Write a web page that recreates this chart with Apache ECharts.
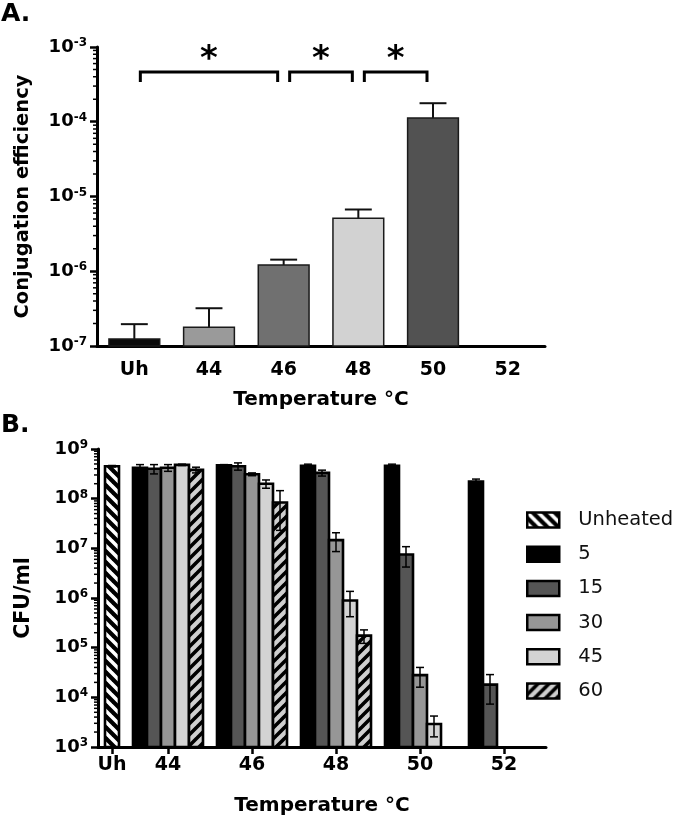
<!DOCTYPE html>
<html><head><meta charset="utf-8">
<script src="https://cdn.jsdelivr.net/npm/echarts@6/dist/echarts.min.js"></script>
<style>html,body{margin:0;padding:0;background:#fff}#c{width:680px;height:823px}</style>
</head><body><div id="c"></div>
<script>
// ---------- Panel A data ----------
const catsA = ['Uh', '44', '46', '48', '50', '52'];
const meanA = [1.24e-7, 1.78e-7, 1.21e-6, 5.1e-6, 1.12e-4, null];
const errA  = [7.2e-8, 1.42e-7, 2.2e-7, 1.6e-6, 6.5e-5, null];
const sigPairsA = [[0, 2], [2, 3], [3, 4]];
const sigLabelsA = ['*', '*', '*'];

// ---------- Panel B data ----------
const groupLabelsB = ['Uh', '44', '46', '48', '50', '52'];
const tempsB = ['44', '46', '48', '50', '52'];
const seriesNamesB = ['Unheated', '5', '15', '30', '45', '60'];
const meanUnheated = [4.5e8];
const errUnheated  = [1.5e7];
const mean5  = [4.2e8, 4.7e8, 4.6e8, 4.6e8, 2.2e8];
const err5   = [6.5e7, 1.5e7, 3.5e7, 3.5e7, 2.8e7];
const mean15 = [4.0e8, 4.5e8, 3.3e8, 7.5e6, 1.8e4];
const err15  = [8.5e7, 7.5e7, 4.5e7, 3.3e6, 1.07e4];
const mean30 = [4.2e8, 3.1e8, 1.46e7, 2.8e4, null];
const err30  = [6.5e7, 2.0e7, 6.0e6, 1.2e4, null];
const mean45 = [4.8e8, 2.0e8, 8.9e5, 2.9e3, null];
const err45  = [1.5e7, 3.8e7, 4.7e5, 1.3e3, null];
const mean60 = [3.8e8, 8.4e7, 1.75e5, null, null];
const err60  = [5.0e7, 6.1e7, 5.3e4, null, null];

// ---------- styles ----------
const FONT = '"DejaVu Sans", sans-serif';
const colorsA = ['#0a0a0a', '#9a9a9a', '#707070', '#d2d2d2', '#525252', '#000000'];
function stripes(bg, fg, dir) {
  const s = 11;
  const c = document.createElement('canvas');
  c.width = s; c.height = s;
  const ctx = c.getContext('2d');
  ctx.fillStyle = bg; ctx.fillRect(0, 0, s, s);
  ctx.strokeStyle = fg; ctx.lineWidth = 3.6; ctx.beginPath();
  for (let k = -1; k <= 1; k++) {
    if (dir === '\\') { ctx.moveTo(k * s - 1, -1); ctx.lineTo(k * s + s + 1, s + 1); }
    else { ctx.moveTo(k * s - 1, s + 1); ctx.lineTo(k * s + s + 1, -1); }
  }
  ctx.stroke();
  return c;
}
const fillsB = [
  { image: stripes('#000000', '#ffffff', '\\'), repeat: 'repeat' },
  '#000000', '#555555', '#969696', '#d3d3d3',
  { image: stripes('#cfcfcf', '#000000', '/'), repeat: 'repeat' }
];

// ---------- layout of panel B slots ----------
const NSLOT = 33;
const UH_SLOT = 1, FIRST_GROUP = 5, GROUP_STEP = 6;
const slotLabels = new Array(NSLOT).fill('');
slotLabels[UH_SLOT] = groupLabelsB[0];
tempsB.forEach((t, g) => { slotLabels[FIRST_GROUP + GROUP_STEP * g] = t; });
const slotCats = slotLabels.map((l, i) => 's' + i);

const Y_MIN_A = 1e-7, Y_MAX_A = 1e-3, Y_MIN_B = 1e3, Y_MAX_B = 1e9;
const BRACKET_Y = 4.64e-4;

const axisLabelBold = { fontFamily: FONT, fontWeight: 'bold', color: '#000' };

function logFormatter(v) {
  const e = Math.round(Math.log10(v));
  return '{b|10}{s|' + e + '}';
}
const logRich = {
  b: { fontFamily: FONT, fontWeight: 'bold', fontSize: 18, color: '#000', lineHeight: 20 },
  s: { fontFamily: FONT, fontWeight: 'bold', fontSize: 12, color: '#000', verticalAlign: 'top', lineHeight: 12 }
};

function renderA(params, api) {
  const i = api.value(0), m = api.value(1), e = api.value(2);
  const top = api.coord([i, m]);
  const baseY = params.coordSys.y + params.coordSys.height;
  const bw = api.coord([i + 1, m])[0] - top[0];
  const w = bw * 0.68;
  const eTop = api.coord([i, m + e]);
  const capW = w * 0.53;
  return { type: 'group', children: [
    { type: 'line', shape: { x1: top[0], y1: top[1], x2: top[0], y2: eTop[1] }, style: { stroke: '#111', lineWidth: 2 } },
    { type: 'line', shape: { x1: top[0] - capW / 2, y1: eTop[1], x2: top[0] + capW / 2, y2: eTop[1] }, style: { stroke: '#111', lineWidth: 2 } },
    { type: 'rect', shape: { x: top[0] - w / 2, y: top[1], width: w, height: baseY - top[1] }, style: { fill: colorsA[i], stroke: '#1a1a1a', lineWidth: 1.5 } }
  ]};
}

function makeRenderB(fill) {
  return function (params, api) {
    const s = api.value(0), m = api.value(1), e = api.value(2);
    const top = api.coord([s, m]);
    const baseY = params.coordSys.y + params.coordSys.height;
    const w = api.coord([s + 1, m])[0] - top[0];
    const hi = api.coord([s, m + e]);
    const lo = api.coord([s, Math.max(m - e, Y_MIN_B)]);
    const cap = 4;
    return { type: 'group', children: [
      { type: 'rect', shape: { x: top[0] - w / 2, y: top[1], width: w, height: baseY - top[1] }, style: { fill: fill, stroke: '#000', lineWidth: 2.6 } },
      { type: 'line', shape: { x1: top[0], y1: hi[1], x2: top[0], y2: lo[1] }, style: { stroke: '#000', lineWidth: 1.5 } },
      { type: 'line', shape: { x1: top[0] - cap, y1: hi[1], x2: top[0] + cap, y2: hi[1] }, style: { stroke: '#000', lineWidth: 1.5 } },
      { type: 'line', shape: { x1: top[0] - cap, y1: lo[1], x2: top[0] + cap, y2: lo[1] }, style: { stroke: '#000', lineWidth: 1.5 } }
    ]};
  };
}

function minorTicks(xi, yi, minExp, maxExp) {
  const vals = [];
  for (let e = minExp; e < maxExp; e++) for (let k = 2; k <= 9; k++) vals.push([0, k * Math.pow(10, e)]);
  return {
    type: 'custom', xAxisIndex: xi, yAxisIndex: yi, silent: true, data: vals, z: 5,
    renderItem: (params, api) => {
      const p = api.coord([0, api.value(1)]);
      const x0 = params.coordSys.x;
      return { type: 'line', shape: { x1: x0 - 4, y1: p[1], x2: x0, y2: p[1] }, style: { stroke: '#000', lineWidth: 1.5 } };
    }
  };
}

// panel B series
const timedMeans = [mean5, mean15, mean30, mean45, mean60];
const timedErrs = [err5, err15, err30, err45, err60];
const seriesB = [];
seriesB.push({
  name: seriesNamesB[0], type: 'custom', xAxisIndex: 1, yAxisIndex: 1,
  itemStyle: { color: fillsB[0], borderColor: '#000', borderWidth: 2 },
  data: meanUnheated.map((m, k) => [UH_SLOT, m, errUnheated[k]]),
  renderItem: makeRenderB(fillsB[0])
});
timedMeans.forEach((arr, j) => {
  const data = [];
  arr.forEach((m, g) => {
    if (m == null) return;
    data.push([FIRST_GROUP + GROUP_STEP * g + (j - 2), m, timedErrs[j][g]]);
  });
  seriesB.push({
    name: seriesNamesB[j + 1], type: 'custom', xAxisIndex: 1, yAxisIndex: 1,
    itemStyle: { color: fillsB[j + 1], borderColor: '#000', borderWidth: 2 },
    data: data, renderItem: makeRenderB(fillsB[j + 1])
  });
});

const option = {
  animation: false,
  backgroundColor: '#fff',
  title: [
    { text: 'A.', left: 1, top: 2, padding: 0, textStyle: { fontFamily: FONT, fontWeight: 'bold', fontSize: 25, color: '#000' } },
    { text: 'B.', left: 1, top: 413, padding: 0, textStyle: { fontFamily: FONT, fontWeight: 'bold', fontSize: 25, color: '#000' } }
  ],
  legend: {
    data: seriesNamesB, orient: 'vertical', left: 526, top: 510, padding: 0,
    icon: 'rect', itemWidth: 32, itemHeight: 15, itemGap: 14.2,
    itemStyle: { borderColor: '#000', borderWidth: 2.5 },
    formatter: n => '{t|' + n + '}',
    textStyle: { rich: { t: { fontFamily: FONT, fontSize: 19.5, color: '#111', padding: [0, 0, 0, 14] } } }
  },
  grid: [
    { left: 97, top: 47, width: 448, height: 299 },
    { left: 98, top: 449, width: 448, height: 298 }
  ],
  xAxis: [
    {
      gridIndex: 0, type: 'category', data: catsA, boundaryGap: true,
      axisLine: { lineStyle: { color: '#000', width: 3 } },
      axisTick: { alignWithLabel: true, length: 7, lineStyle: { color: '#000', width: 2.5 } },
      axisLabel: Object.assign({ margin: 15, fontSize: 19 }, axisLabelBold),
      name: 'Temperature °C', nameLocation: 'middle', nameGap: 44,
      nameTextStyle: { fontFamily: FONT, fontWeight: 'bold', fontSize: 20, color: '#000' }
    },
    {
      gridIndex: 1, type: 'category', data: slotCats, boundaryGap: false,
      axisLine: { lineStyle: { color: '#000', width: 3 } },
      axisTick: { interval: (i) => slotLabels[i] !== '', length: 7, lineStyle: { color: '#000', width: 2.5 } },
      axisLabel: Object.assign({ interval: 0, margin: 9, fontSize: 19, formatter: (v, i) => slotLabels[i] }, axisLabelBold),
      name: 'Temperature °C', nameLocation: 'middle', nameGap: 49,
      nameTextStyle: { fontFamily: FONT, fontWeight: 'bold', fontSize: 20, color: '#000' }
    }
  ],
  yAxis: [
    {
      gridIndex: 0, type: 'log', logBase: 10, min: Y_MIN_A, max: Y_MAX_A,
      splitLine: { show: false },
      axisLine: { show: true, lineStyle: { color: '#000', width: 3 } },
      axisTick: { show: true, length: 7, lineStyle: { color: '#000', width: 2.5 } },
      axisLabel: { margin: 10, formatter: logFormatter, rich: logRich },
      name: 'Conjugation efficiency', nameLocation: 'middle', nameGap: 64, nameRotate: 90,
      nameTextStyle: { fontFamily: FONT, fontWeight: 'bold', fontSize: 19.5, color: '#000' }
    },
    {
      gridIndex: 1, type: 'log', logBase: 10, min: Y_MIN_B, max: Y_MAX_B,
      splitLine: { show: false },
      axisLine: { show: true, lineStyle: { color: '#000', width: 3 } },
      axisTick: { show: true, length: 7, lineStyle: { color: '#000', width: 2.5 } },
      axisLabel: { margin: 10, formatter: logFormatter, rich: logRich },
      name: 'CFU/ml', nameLocation: 'middle', nameGap: 64, nameRotate: 90,
      nameTextStyle: { fontFamily: FONT, fontWeight: 'bold', fontSize: 20.5, color: '#000' }
    }
  ],
  series: [
    {
      name: 'Conjugation efficiency', type: 'custom', xAxisIndex: 0, yAxisIndex: 0,
      data: meanA.map((m, i) => m == null ? null : [i, m, errA[i]]).filter(Boolean),
      renderItem: renderA
    },
    {
      name: 'significance', type: 'custom', xAxisIndex: 0, yAxisIndex: 0, silent: true,
      encode: { x: [0, 1], y: 2 },
      data: sigPairsA.map(p => [p[0], p[1], BRACKET_Y]),
      renderItem: (params, api) => {
        const a = api.coord([api.value(0), api.value(2)]);
        const b = api.coord([api.value(1), api.value(2)]);
        const x1 = a[0] + 6, x2 = b[0] - 6, y = a[1], drop = 10;
        return { type: 'group', children: [
          { type: 'polyline', shape: { points: [[x1, y + drop], [x1, y], [x2, y], [x2, y + drop]] }, style: { stroke: '#000', lineWidth: 3, fill: null } },
          { type: 'text', x: (x1 + x2) / 2, y: y - 12, style: { text: sigLabelsA[params.dataIndex], fill: '#000', font: 'bold 34px "DejaVu Sans"', align: 'center', verticalAlign: 'middle' } }
        ]};
      }
    },
    minorTicks(0, 0, -7, -3),
    minorTicks(1, 1, 3, 9)
  ].concat(seriesB)
};

const chart = echarts.init(document.getElementById('c'), null, { renderer: 'canvas' });
chart.setOption(option);
</script>
</body></html>
